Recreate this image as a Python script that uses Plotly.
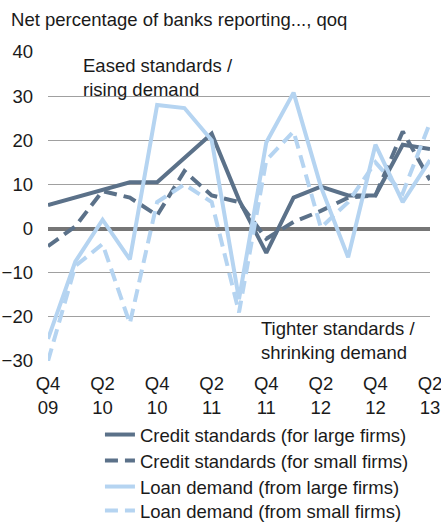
import plotly.graph_objects as go

# quarters Q4 09 .. Q2 13
quarters = list(range(15))
tick_pos = [0, 2, 4, 6, 8, 10, 12, 14]
tick_text = ["Q4<br>09", "Q2<br>10", "Q4<br>10", "Q2<br>11",
             "Q4<br>11", "Q2<br>12", "Q4<br>12", "Q2<br>13"]

credit_large = [5.3, 7.0, 8.8, 10.5, 10.5, 16.0, 21.5, 6.5, -5.5, 7.0, 9.5, 7.5, 7.5, 19.0, 18.0]
credit_small = [-4.0, 0.5, 8.5, 7.0, 3.0, 13.0, 7.5, 6.0, -2.3, 1.5, 4.0, 7.0, 7.5, 22.0, 11.0]
loan_large = [-25.0, -7.5, 2.0, -7.0, 28.0, 27.3, 20.0, -16.0, 19.5, 30.8, 9.5, -6.5, 19.0, 6.0, 15.5]
loan_small = [-30.0, -8.5, -3.5, -21.5, 6.0, 10.0, 6.0, -19.0, 15.5, 22.0, 0.2, 6.0, 15.0, 8.0, 24.0]

DARK = "#5b7189"
LIGHT = "#b5d4f1"
DASH = "13px,7px"

series = [
    ("Credit standards (for large firms)", credit_large, DARK, "solid"),
    ("Credit standards (for small firms)", credit_small, DARK, DASH),
    ("Loan demand (from large firms)", loan_large, LIGHT, "solid"),
    ("Loan demand (from small firms)", loan_small, LIGHT, DASH),
]

# one legend per entry so the row spacing can match the original
legend_ids = ["legend", "legend2", "legend3", "legend4"]
legend_rows = [-0.2395, -0.3236, -0.4078, -0.4854]

fig = go.Figure()
for (name, vals, col, dash), lg in zip(series, legend_ids):
    fig.add_trace(go.Scatter(x=quarters, y=vals, name=name, mode="lines", legend=lg,
                             line=dict(color=col, width=4, dash=dash)))

fig.add_annotation(x=1.2, y=34.3, xref="x", yref="y", xanchor="left", yanchor="middle",
                   text="Eased standards /<br>rising demand", showarrow=False, align="left")
fig.add_annotation(x=7.74, y=-25.4, xref="x", yref="y", xanchor="left", yanchor="middle",
                   text="Tighter standards /<br>shrinking demand", showarrow=False, align="left")

fig.update_layout(
    width=441, height=522,
    margin=dict(l=48, r=11, t=52, b=161, autoexpand=False),
    paper_bgcolor="white", plot_bgcolor="white",
    font=dict(family="Liberation Sans, Arial, sans-serif", size=18.5, color="#1a1a1a"),
    title=dict(text="Net percentage of banks reporting..., qoq", x=0.025, xanchor="left",
               y=0.962, yanchor="middle", font=dict(size=18.5)),
    showlegend=True,
)
for lg, ypos in zip(legend_ids, legend_rows):
    fig.update_layout({lg: dict(x=0.136, xanchor="left", y=ypos, yanchor="middle",
                                bgcolor="rgba(0,0,0,0)", font=dict(size=18.5))})

fig.update_xaxes(range=[0, 14], tickvals=tick_pos, ticktext=tick_text,
                 showgrid=False, zeroline=False, showline=False, ticks="",
                 ticklabelstandoff=9, ticklabeloverflow="allow")
fig.update_yaxes(range=[-30, 40], dtick=10, showgrid=True, gridcolor="#a0a0a0", gridwidth=1,
                 zeroline=True, zerolinecolor="#767676", zerolinewidth=4,
                 showline=False, ticks="", ticklabelstandoff=14)

# the page's default body margin would shift the figure by 8px
fig.write_html("out.html", config={"displayModeBar": False},
               post_script="document.body.style.margin='0';")
